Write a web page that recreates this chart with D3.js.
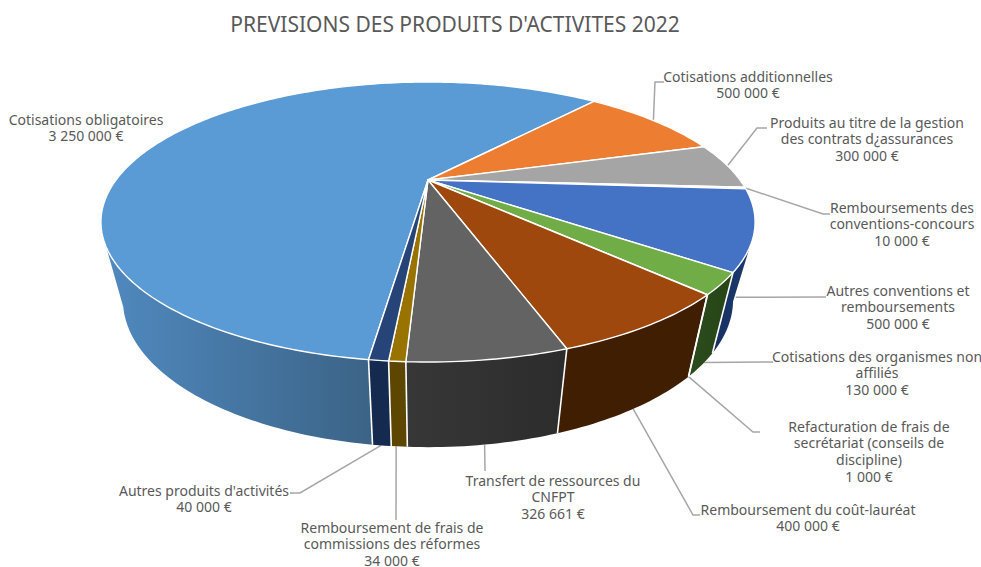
<!DOCTYPE html>
<html>
<head>
<meta charset="utf-8">
<script src="https://cdn.jsdelivr.net/npm/d3@7"></script>
<style>
  body { margin: 0; background: #fff; }
  text { font-family: "Noto Sans", sans-serif; fill: #595959; }
</style>
</head>
<body>
<svg id="graf1" width="981" height="567"></svg>
<script>
let categories = [
  'Cotisations obligatoires',
  'Cotisations additionnelles',
  "Produits au titre de la gestion\ndes contrats d¿assurances",
  'Remboursements des\nconventions-concours',
  'Autres conventions et\nremboursements',
  'Cotisations des organismes non\naffiliés',
  'Refacturation de frais de\nsecrétariat (conseils de\ndiscipline)',
  'Remboursement du coût-lauréat',
  'Transfert de ressources du\nCNFPT',
  'Remboursement de frais de\ncommissions des réformes',
  "Autres produits d'activités"
]
let valeurs = [3250000, 500000, 300000, 10000, 500000, 130000, 1000, 400000, 326661, 34000, 40000]

let couleurs = ['#5b9bd5', '#ed7d31', '#a5a5a5', '#ffc000', '#4472c4', '#70ad47', '#255e91', '#9e480e', '#636363', '#997300', '#264478']
// cote du gateau: [gauche, droite] du degrade
let cotes = [
  ['#5089bf', '#3b6386'], ['#8a4a1d', '#8a4a1d'], ['#606060', '#606060'], ['#7a6000', '#7a6000'],
  ['#16305f', '#1b3a70'], ['#2b4c1c', '#274518'], ['#1a4468', '#1a4468'], ['#3f1e02', '#3f1e02'],
  ['#373737', '#2c2c2c'], ['#5d4600', '#5d4600'], ['#152a4f', '#152a4f']
]

// position de chaque etiquette: centre, premiere ligne, coude de la ligne de rappel
let etiquettes = [
  { x: 86, y: 120 },
  { x: 748, y: 77, coude: [[664, 82], [655, 82]], haut: 0 },
  { x: 867, y: 123, coude: [[767, 128], [757, 128]], haut: 0 },
  { x: 902, y: 208, coude: [[830, 214], [823, 214]], haut: 0 },
  { x: 898, y: 291, coude: [[826, 297]], haut: .6, angle: 118 },
  { x: 877, y: 357, coude: [[773, 362]], haut: 1, angle: 130 },
  { x: 869, y: 427, coude: [[760, 432], [753, 432]], haut: 1 },
  { x: 808, y: 510, coude: [[700, 515], [693, 515]], haut: 1 },
  { x: 553, y: 481, coude: [[485, 471]], haut: 1 },
  { x: 392, y: 528, coude: [[396, 520]], haut: 1, angle: 184.4 },
  { x: 204, y: 491, coude: [[290, 493], [300, 493]], haut: 1, angle: 186.5 }
]

let width = 981
let height = 567
let cx = 428
let k = 0.3
let dessus = { R: 312, S: 127.4, yc: 180 }
let dessous = { R: 291, S: 133.8, yc: 256 }
let rad = Math.PI / 180

function projeter(a, z) {
  let u = Math.sin(a)
  let v = -Math.cos(a)
  let w = 1 - k * v
  let R = dessus.R + (dessous.R - dessus.R) * z
  let S = dessus.S + (dessous.S - dessus.S) * z
  let yc = dessus.yc + (dessous.yc - dessus.yc) * z
  return [cx + R * u / w, yc + S * v / w]
}

function arcPoints(a0, a1, z) {
  let n = Math.max(2, Math.ceil(Math.abs(a1 - a0) / (1 * rad)))
  return d3.range(n + 1).map(i => projeter(a0 + (a1 - a0) * i / n, z))
}

let pie = d3.pie().sort(null).value(d => d)
  .startAngle(-172.3 * rad).endAngle((360 - 172.3) * rad)
let parts = pie(valeurs)

let ligne = d3.line()
let euro = d3.formatLocale({ decimal: ',', thousands: ' ', grouping: [3], currency: ['', ' €'] }).format('$,.0f')

let svg = d3.select('#graf1')
let defs = svg.append('defs')

svg.append('text')
  .attr('x', 455).attr('y', 32)
  .attr('text-anchor', 'middle')
  .style('font-size', '21px')
  .text("PREVISIONS DES PRODUITS D'ACTIVITES 2022")

// lignes de rappel, derriere le gateau
svg.append('g').selectAll('path')
  .data(parts)
  .enter().filter((d, i) => etiquettes[i].coude)
  .append('path')
  .attr('fill', 'none')
  .attr('stroke', '#a6a6a6')
  .attr('stroke-width', 1.5)
  .attr('d', d => {
    let e = etiquettes[d.index]
    let a = e.angle ? e.angle * rad : (d.startAngle + d.endAngle) / 2
    return ligne([...e.coude, projeter(a, e.haut)])
  })

// murs visibles, de 117 a 243 degres (le bas va un peu plus loin, c'est la perspective)
let murs = svg.append('g')
let aretes = svg.append('g')
let visMin = 117 * rad
let visMax = 243 * rad
let basMin = 108 * rad
let basMax = 250 * rad
parts.forEach(d => {
  // la part peut etre exprimee avec un angle negatif
  let tours = [0, 2 * Math.PI]
  tours.forEach(t => {
    let a0 = Math.max(d.startAngle + t, visMin)
    let a1 = Math.min(d.endAngle + t, visMax)
    if (a1 <= a0) return
    let b0 = a0 == visMin ? basMin : a0
    let b1 = a1 == visMax ? basMax : a1
    let pts = arcPoints(a0, a1, 0).concat(arcPoints(b0, b1, 1).reverse())
    let id = 'cote' + d.index
    let xs = d3.extent(pts, p => p[0])
    let grad = defs.append('linearGradient')
      .attr('id', id).attr('gradientUnits', 'userSpaceOnUse')
      .attr('x1', xs[0]).attr('x2', xs[1]).attr('y1', 0).attr('y2', 0)
    grad.append('stop').attr('offset', 0).attr('stop-color', cotes[d.index][0])
    grad.append('stop').attr('offset', 1).attr('stop-color', cotes[d.index][1])
    murs.append('path').attr('d', ligne(pts) + 'Z').attr('fill', `url(#${id})`)
    // aretes verticales, seulement entre deux parts
    if (a1 != visMax) {
      aretes.append('path').attr('d', ligne([projeter(a1, 0), projeter(a1, 1)]))
        .attr('stroke', '#fff').attr('stroke-width', 1.6).attr('fill', 'none')
    }
  })
})

// dessus du gateau
let faces = svg.append('g')
faces.selectAll('path')
  .data(parts)
  .enter().append('path')
  .attr('d', d => ligne([[cx, dessus.yc], ...arcPoints(d.startAngle, d.endAngle, 0)]) + 'Z')
  .attr('fill', (d, i) => couleurs[i])
  .attr('stroke', '#fff')
  .attr('stroke-width', 1.4)
  .attr('stroke-linejoin', 'round')

// la part de 10 000 est trop fine, elle ne se voit que par son trait
faces.filter((d, i) => i == 3).attr('stroke', '#f6e3a6').attr('stroke-width', 1.2).raise()

// etiquettes
let labels = svg.append('g').selectAll('text')
  .data(parts)
  .enter().append('text')
  .attr('text-anchor', 'middle')
  .style('font-size', '14px')

labels.each(function (d, i) {
  let lignes = categories[i].split('\n').concat(euro(d.value))
  let e = etiquettes[i]
  d3.select(this).selectAll('tspan')
    .data(lignes)
    .enter().append('tspan')
    .attr('x', e.x)
    .attr('y', (l, j) => e.y + 4.5 + j * 16.9)
    .text(l => l)
})
</script>
</body>
</html>
